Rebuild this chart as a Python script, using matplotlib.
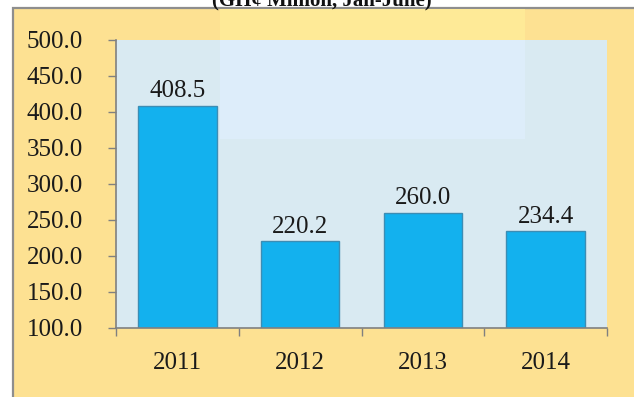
import numpy as np
import matplotlib.pyplot as plt
from matplotlib.patches import Rectangle

# dados
anos = ['2011', '2012', '2013', '2014']
valores = [408.5, 220.2, 260.0, 234.4]
y_ticks = [100, 150, 200, 250, 300, 350, 400, 450, 500]

fonte = 'Liberation Serif'

fig = plt.figure(figsize=(6.34, 3.97), dpi=100)
fig.patch.set_facecolor('white')

# moldura dourada (sai pela direita e por baixo)
fig.patches.append(Rectangle((13 / 634, -0.05), 1.1, 1 - 8 / 397 + 0.05,
                             transform=fig.transFigure, facecolor='#FDE192',
                             edgecolor='#8E8E8E', linewidth=1.6, zorder=-2))
fig.patches.append(Rectangle((220 / 634, 1 - 40 / 397), (525 - 220) / 634, 31 / 397,
                             transform=fig.transFigure, facecolor='#FEEA97',
                             edgecolor='none', zorder=-1))

# título cortado no topo, como no original
fig.text(0.508, 1 - 5 / 397, '(GH¢ Million, Jan-June)', ha='center', va='baseline',
         fontsize=15, fontweight='bold', family=fonte, color='#111111')

ax = fig.add_axes([116 / 634, 1 - 328 / 397, (607 - 116) / 634, 288 / 397])
ax.set_zorder(1)
ax.set_facecolor('#D9EAF2')
ax.add_patch(Rectangle((0.212, 0.656), 0.621, 0.344, transform=ax.transAxes,
                       facecolor='#DDEDFA', edgecolor='none', zorder=0))

x = np.arange(len(anos))
barras = ax.bar(x, valores, width=0.64, bottom=0, color='#13B1EE',
                edgecolor='#3C8DB4', linewidth=1.0, zorder=2)

for xi, v in zip(x, valores):
    ax.text(xi, v + 5, f'{v:.1f}', ha='center', va='bottom', fontsize=18,
            family=fonte, color='#1a1a1a', zorder=3)

ax.set_xlim(-0.5, len(anos) - 0.5)
ax.set_ylim(100, 500)
ax.set_yticks(y_ticks)
ax.set_yticklabels([f'{t:.1f}' for t in y_ticks], family=fonte, fontsize=18,
                   color='#1a1a1a')
ax.set_xticks(x)
ax.set_xticklabels(anos, family=fonte, fontsize=18, color='#1a1a1a')
ax.set_xticks(np.arange(len(anos) + 1) - 0.5, minor=True)

ax.tick_params(axis='y', direction='out', length=6, width=1, color='#808080', pad=18)
ax.tick_params(axis='x', which='major', length=0, pad=17)
ax.tick_params(axis='x', which='minor', direction='out', length=6, width=1, color='#808080')

for lado in ['top', 'right']:
    ax.spines[lado].set_visible(False)
for lado in ['left', 'bottom']:
    ax.spines[lado].set_color('#808080')
    ax.spines[lado].set_linewidth(1.2)

fig.savefig('out.png', dpi=100)
